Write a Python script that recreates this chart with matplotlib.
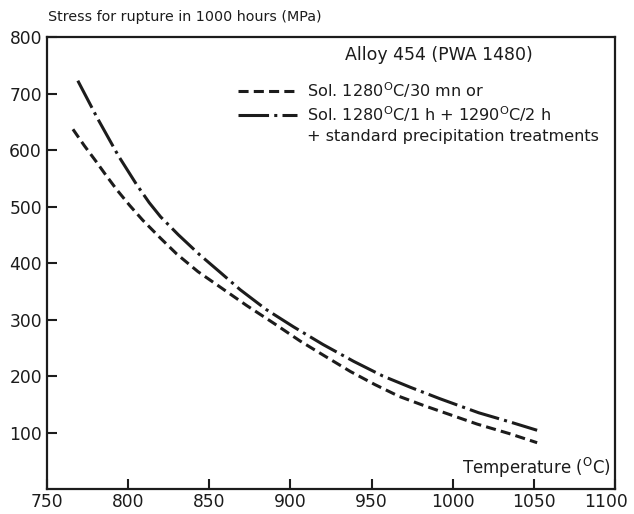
import matplotlib
matplotlib.use("Agg")
from matplotlib import pyplot as plt
from matplotlib.lines import Line2D
from matplotlib.transforms import ScaledTranslation

plt.rcParams['font.family'] = ['DejaVu Sans']
plt.rcParams['mathtext.fontset'] = 'dejavusans'

# Sol. 1280C/30 mn (dashed)
temp_short = [766, 773, 780, 786, 793, 801, 809, 820, 830, 843, 857, 873, 890,
              906, 922, 937, 952, 967, 982, 996, 1015, 1035, 1052]
stress_short = [637, 608, 581, 557, 530, 502, 476, 444, 416, 385, 357, 325, 293,
                262, 234, 208, 185, 164, 148, 134, 115, 98, 82]

# Sol. 1280C/1 h + 1290C/2 h (dash-dot)
temp_long = [769, 781, 794, 805, 813, 820, 831, 844, 857, 869, 885, 902, 920,
             939, 957, 974, 992, 1016, 1035, 1052]
stress_long = [723, 657, 590, 540, 507, 482, 450, 415, 383, 353, 318, 287, 256,
               226, 200, 180, 160, 135, 119, 104]

xticks = [750, 800, 850, 900, 950, 1000, 1050, 1100]
yticks = [100, 200, 300, 400, 500, 600, 700, 800]

ink = '#1c1c1c'
dash_short = (3.3, 1.7)
dash_long = (10, 1.7, 1.0, 1.7)

fig = plt.figure(figsize=(6.34, 5.14), dpi=100)
ax = fig.add_axes([0.0741, 0.0486, 0.896, 0.879])

ax.plot(temp_short, stress_short, color=ink, lw=2.2, dashes=dash_short)
ax.plot(temp_long, stress_long, color=ink, lw=2.2, dashes=dash_long)

ax.set_xlim(750, 1100)
ax.set_ylim(0, 800)
ax.set_xticks(xticks)
ax.set_yticks(yticks)
ax.tick_params(direction='in', length=7, width=1.5, labelsize=12.3, color=ink, labelcolor=ink)
ax.tick_params(axis='x', pad=3)
ax.tick_params(axis='y', pad=3.6)
for s in ax.spines.values():
    s.set_linewidth(1.6)
    s.set_color(ink)

# last x label sits a bit left of its tick, as in the original
last = ax.get_xticklabels()[-1]
last.set_transform(last.get_transform() + ScaledTranslation(-9 / 100, 0, fig.dpi_scale_trans))

ax.set_ylabel('Stress for rupture in 1000 hours (MPa)', rotation=0, ha='left', va='bottom',
              fontsize=10.3, color=ink)
ax.yaxis.set_label_coords(0.002, 1.03)
ax.set_xlabel(r'Temperature ($^{\rm O}$C)', ha='right', va='bottom', fontsize=12, color=ink)
ax.xaxis.set_label_coords(0.992, 0.02)

ax.text(0.69, 0.96, 'Alloy 454 (PWA 1480)', transform=ax.transAxes, ha='center', va='center',
        fontsize=12.5, color=ink)

handles = [
    Line2D([], [], color=ink, lw=2.2, dashes=dash_short),
    Line2D([], [], color=ink, lw=2.2, dashes=dash_long),
    Line2D([], [], color='none'),
]
labels = [
    r'Sol. 1280$^{\rm O}$C/30 mn or',
    r'Sol. 1280$^{\rm O}$C/1 h + 1290$^{\rm O}$C/2 h',
    '+ standard precipitation treatments',
]
leg = ax.legend(handles, labels, loc='upper left', bbox_to_anchor=(0.336, 0.905), frameon=False,
                fontsize=11.6, handlelength=3.66, handletextpad=0.62, labelspacing=0.28,
                borderpad=0, borderaxespad=0)
for t in leg.get_texts():
    t.set_color(ink)

fig.savefig('out.png', dpi=100)
